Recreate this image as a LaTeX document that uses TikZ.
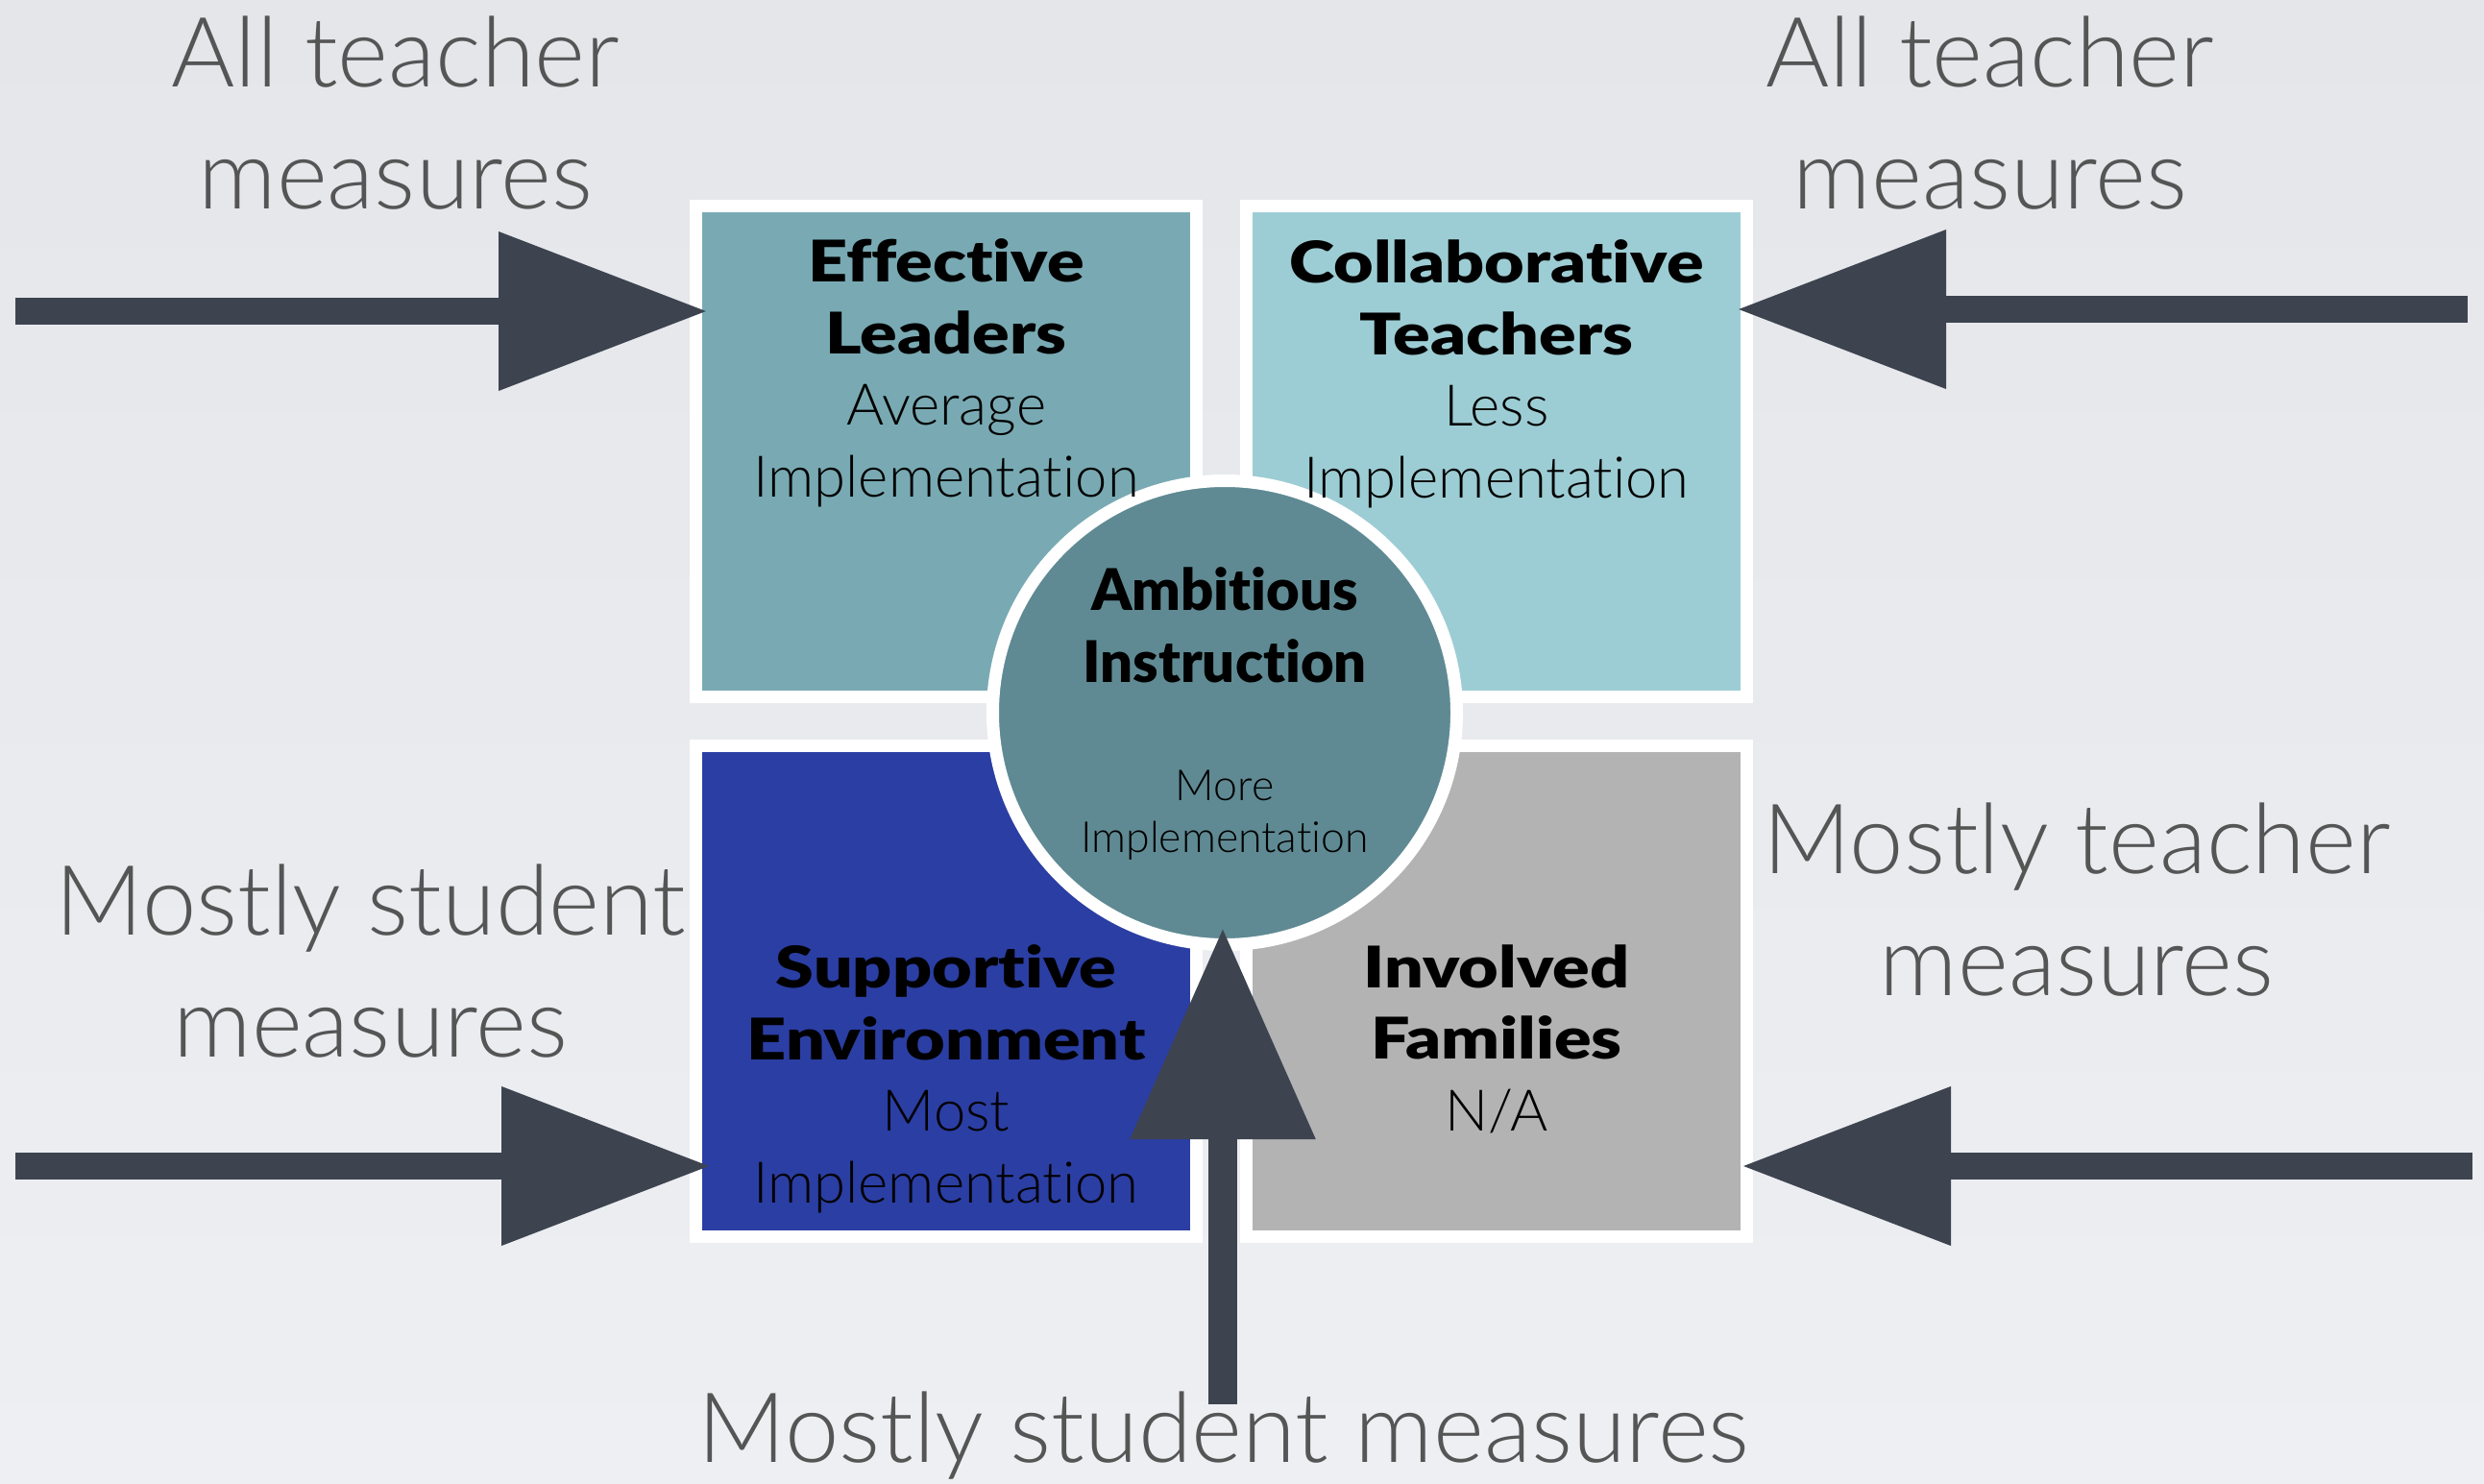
\documentclass[tikz,border=0pt]{standalone}
\usepackage{fontspec}
\setmainfont{Lato}
\newfontfamily\lightfont{Lato Light}[Ligatures=NoCommon]
\newfontfamily\heavyfont{Lato Black}[Ligatures=NoCommon]
\newfontfamily\wideheavyfont{Lato Black}[Ligatures=NoCommon, FakeStretch=1.2]
\usetikzlibrary{positioning, arrows.meta}
\definecolor{bgtop}{HTML}{E4E6EA}
\definecolor{bgbottom}{HTML}{EEEFF3}
\definecolor{leadteal}{HTML}{79AAB3}
\definecolor{teachteal}{HTML}{9DCDD4}
\definecolor{coreteal}{HTML}{5F8A93}
\definecolor{envblue}{HTML}{2B3EA3}
\definecolor{famgray}{HTML}{B3B3B3}
\definecolor{arrowgray}{HTML}{3D4450}
\definecolor{labelgray}{HTML}{555555}
\tikzset{
    quad/.style={rectangle, draw=white, line width=0.13cm, minimum width=5.21cm, minimum height=5.11cm, inner sep=0pt},
    core/.style={circle, draw=white, line width=0.13cm, fill=coreteal, minimum size=4.83cm, inner sep=0pt},
    title/.style={align=center, inner sep=0pt, font=\lightfont\fontsize{17}{21.2}\selectfont},
    small/.style={align=center, inner sep=0pt, font=\lightfont\fontsize{12.7}{15.4}\selectfont},
    measure/.style={align=center, inner sep=0pt, text=labelgray, font=\lightfont\fontsize{28.8}{36.1}\selectfont},
    bigarrow/.style={draw=arrowgray, line width=0.28cm, -{Triangle[length=2.18cm, width=1.58cm]}},
    uparrow/.style={draw=arrowgray, line width=0.3cm, -{Triangle[length=2.2cm, width=1.85cm]}}
}
\begin{document}
\begin{tikzpicture}[y=-1cm]
    \useasboundingbox (0,0) rectangle (25.86,15.45);
    \fill[top color=bgtop, bottom color=bgbottom] (0,0) rectangle (25.86,15.45);

    % the four quadrants
    \node[quad, fill=leadteal] (leaders) at (9.85,4.70) {};
    \node[quad, fill=teachteal, right=0.39cm of leaders] (teachers) {};
    \node[quad, fill=envblue, below=0.38cm of leaders] (environment) {};
    \node[quad, fill=famgray, right=0.39cm of environment] (families) {};
    \node[core] (instruction) at (12.75,7.42) {};

    \node[title, below=0.40cm of leaders.north] (leaderstext)
        {{\wideheavyfont Effective}\\{\wideheavyfont Leaders}\\Average\\Implementation};
    \node[title, below=0.41cm of teachers.north] (teacherstext)
        {{\wideheavyfont Collaborative}\\{\wideheavyfont Teachers}\\Less\\Implementation};
    \node[title, below=2.13cm of environment.north] (environmenttext)
        {{\wideheavyfont Supportive}\\{\wideheavyfont Environment}\\Most\\Implementation};
    \node[title, below=2.13cm of families.north] (familiestext)
        {{\wideheavyfont Involved}\\{\wideheavyfont Families}\\N/A};
    \node[title, anchor=north] (coretitle) at ([yshift=1.52cm]instruction.center)
        {{\heavyfont Ambitious}\\{\heavyfont Instruction}};
    \node[small, below=0.59cm of instruction.center] (corenote) {More\\Implementation};

    % measures around the model
    \node[measure, anchor=north] (measTL) at (4.12,0.16) {All teacher\\measures};
    \node[measure, anchor=north] (measTR) at (20.72,0.16) {All teacher\\measures};
    \node[measure, anchor=north] (measBL) at (3.86,8.99) {Mostly student\\measures};
    \node[measure, anchor=north] (measBR) at (21.62,8.35) {Mostly teacher\\measures};
    \node[measure, anchor=north] (measB) at (12.74,14.48) {Mostly student measures};

    \coordinate (inTL) at (0.16,3.24);
    \coordinate (inTR) at (25.69,3.22);
    \coordinate (inBL) at (0.16,12.14);
    \coordinate (inBR) at (25.74,12.14);
    \coordinate (inB) at (12.73,14.62);

    \draw[bigarrow, shorten >=-0.19cm] (inTL) -- (inTL -| leaders.west);
    \draw[bigarrow, shorten >=-0.17cm] (inTR) -- (inTR -| teachers.east);
    \draw[bigarrow, shorten >=-0.22cm] (inBL) -- (inBL -| environment.west);
    \draw[bigarrow, shorten >=-0.12cm] (inBR) -- (inBR -| families.east);
    \draw[uparrow, shorten >=-0.24cm] (inB) -- (inB |- instruction.south);
\end{tikzpicture}
\end{document}
